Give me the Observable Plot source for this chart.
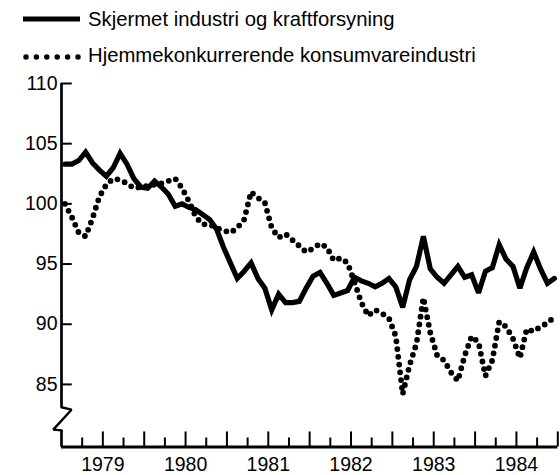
<!DOCTYPE html>
<html><head><meta charset="utf-8">
<script src="https://cdn.jsdelivr.net/npm/d3@7"></script>
<script src="https://cdn.jsdelivr.net/npm/@observablehq/plot@0.6"></script>
<style>
body{margin:0;background:#fff;font-family:"Liberation Sans",Arial,Helvetica,sans-serif;}
#legend{position:relative;height:70px;width:560px;}
.row{position:absolute;left:0;height:22px;font-size:20.3px;line-height:22px;white-space:nowrap;color:#000;width:560px}
.row svg{position:absolute;left:0;top:0}
.row span{position:absolute;left:88px;top:0}
</style></head><body>
<div id="legend"></div>
<div id="chart"></div>
<script>
// ---- data ----
const startYear = 1979;
const seriesNames = ["Skjermet industri og kraftforsyning", "Hjemmekonkurrerende konsumvareindustri"];
// monthly index values, Jan 1979 – Dec 1984
const solidValues = [103.3,103.3,103.6,104.3,103.4,102.8,102.3,103.0,104.2,103.3,
  102.1,101.4,101.3,101.9,101.4,100.8,99.8,100.0,99.7,99.5,
  99.1,98.7,97.9,96.4,95.1,93.8,94.4,95.1,93.8,93.0,
  91.2,92.5,91.8,91.8,91.9,93.0,94.0,94.3,93.4,92.4,
  92.6,92.8,93.9,93.6,93.4,93.1,93.4,93.8,93.1,91.4,
  93.7,94.8,97.3,94.6,93.9,93.4,94.1,94.8,93.9,94.1,
  92.6,94.4,94.7,96.6,95.4,94.8,93.0,94.7,96.0,94.6,
  93.4,93.8];
const dottedValues = [100.0,98.9,97.6,97.3,98.8,100.6,101.6,102.1,102.0,101.7,
  101.3,101.4,101.5,101.6,101.7,101.9,102.1,101.3,100.2,98.9,
  98.3,98.3,98.0,97.8,97.6,98.0,98.7,101.0,100.5,100.1,
  98.0,97.2,97.5,97.0,96.5,96.0,96.3,96.7,96.4,95.3,
  95.5,95.1,93.5,91.8,90.7,91.2,90.9,90.5,89.0,84.2,
  86.6,88.4,92.2,89.3,87.4,87.0,86.0,85.3,87.4,89.0,
  88.5,85.7,87.0,90.2,89.8,88.8,87.2,89.6,89.4,89.8,
  90.1,90.6];
const yTicks = [85, 90, 95, 100, 105, 110];
const yearLabels = [1979, 1980, 1981, 1982, 1983, 1984];

// ---- legend ----
const legend = document.getElementById("legend");
legend.innerHTML = `
<div class="row" style="top:8px"><svg width="86" height="22"><line x1="23" x2="80" y1="11" y2="11" stroke="#000" stroke-width="5"/></svg><span>${seriesNames[0]}</span></div>
<div class="row" style="top:44px"><svg width="86" height="22"><line x1="26" x2="78" y1="13" y2="13" stroke="#000" stroke-width="5.5" stroke-linecap="round" stroke-dasharray="0 10.4"/></svg><span>${seriesNames[1]}</span></div>`;

// ---- chart ----
const xMin = 1979, xMax = 1985, yMin = 79.8, yMax = 110;
const toRows = (vals) => vals.map((v, i) => ({t: startYear + (i + 0.5) / 12, v}));
const solidRows = toRows(solidValues);
const dottedRows = toRows(dottedValues);
const quarterTicks = d3.range(1, 25).map(q => xMin + q / 4);
const breakPts = [{x: xMin, y: 83.1}, {x: xMin + 0.121, y: 82.9}, {x: xMin - 0.1, y: 81.24}, {x: xMin, y: 81.18}];

const chart = Plot.plot({
  width: 560, height: 405,
  marginTop: 13, marginBottom: 28.5, marginLeft: 61, marginRight: 2.7,
  style: {fontFamily: '"Liberation Sans", Arial, Helvetica, sans-serif', fontSize: "19.5px", color: "#000", background: "#fff", overflow: "visible"},
  x: {domain: [xMin, xMax], ticks: yearLabels.map(y => y + 0.5), tickFormat: d => String(Math.floor(d)), tickSize: 0, tickPadding: 10.5, label: null},
  y: {domain: [yMin, yMax], ticks: yTicks, tickSize: 0, tickPadding: 4, label: null},
  marks: [
    Plot.ruleX([xMin], {y1: yMax, y2: 83.1, stroke: "#000", strokeWidth: 2.7}),
    Plot.ruleX([xMin], {y1: 81.18, y2: yMin, stroke: "#000", strokeWidth: 2.7}),
    Plot.line(breakPts, {x: "x", y: "y", stroke: "#000", strokeWidth: 2.4, strokeLinejoin: "miter"}),
    Plot.ruleY([yMin], {x1: xMin, x2: xMax, stroke: "#000", strokeWidth: 3}),
    Plot.ruleY(yTicks, {x1: xMin, x2: xMin + 0.13, stroke: "#000", strokeWidth: 2}),
    Plot.ruleX(quarterTicks, {y1: yMin, y2: d => yMin + (Math.abs(d * 2 - Math.round(d * 2)) < 1e-6 ? 1.25 : 0.75), stroke: "#000", strokeWidth: 2}),
    Plot.line(dottedRows, {x: "t", y: "v", stroke: "#000", strokeWidth: 5.8, strokeLinecap: "round", strokeDasharray: "0 7.8"}),
    Plot.line(solidRows, {x: "t", y: "v", stroke: "#000", strokeWidth: 5.2, strokeLinejoin: "miter", strokeMiterlimit: 3})
  ]
});
document.getElementById("chart").appendChild(chart);
</script>
</body></html>
